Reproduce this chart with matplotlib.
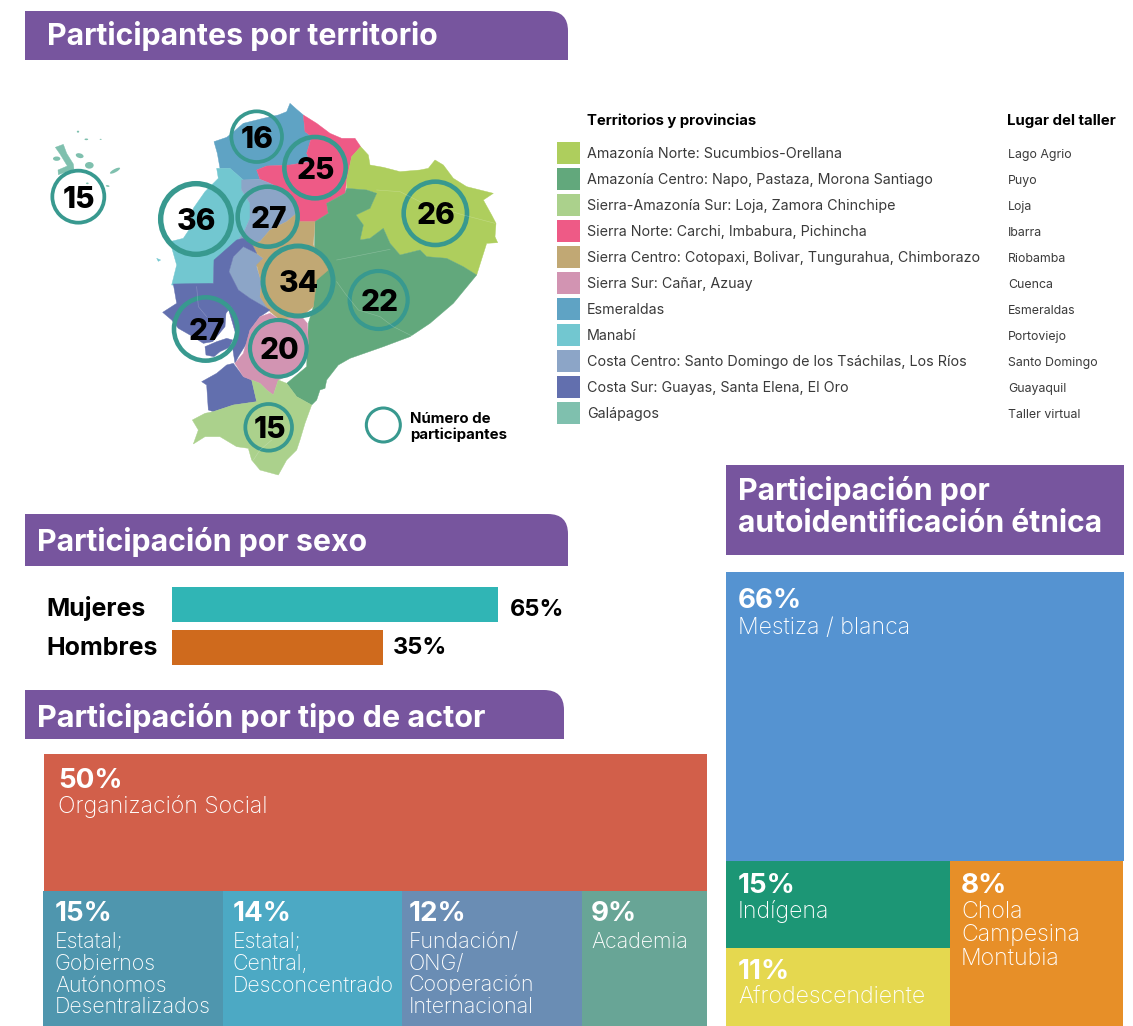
"""Participantes por territorio, sexo, tipo de actor y autoidentificación étnica."""
import matplotlib
matplotlib.use("Agg")
import matplotlib.pyplot as plt
from matplotlib.patches import Circle, Ellipse, PathPatch, Polygon
from matplotlib.path import Path

plt.rcParams["font.family"] = ["Inter", "DejaVu Sans"]

# ---- datos ----
territories = ["Amazonía Norte: Sucumbios-Orellana",
               "Amazonía Centro: Napo, Pastaza, Morona Santiago",
               "Sierra-Amazonía Sur: Loja, Zamora Chinchipe",
               "Sierra Norte: Carchi, Imbabura, Pichincha",
               "Sierra Centro: Cotopaxi, Bolivar, Tungurahua, Chimborazo",
               "Sierra Sur: Cañar, Azuay",
               "Esmeraldas",
               "Manabí",
               "Costa Centro: Santo Domingo de los Tsáchilas, Los Ríos",
               "Costa Sur: Guayas, Santa Elena, El Oro",
               "Galápagos"]
workshops = ["Lago Agrio", "Puyo", "Loja", "Ibarra", "Riobamba", "Cuenca",
             "Esmeraldas", "Portoviejo", "Santo Domingo", "Guayaquil", "Taller virtual"]
territory_counts = [26, 22, 15, 25, 34, 20, 16, 36, 27, 27, 15]

sex_labels = ["Mujeres", "Hombres"]
sex_pct = [65, 35]
# largo dibujado de cada barra: el original no es proporcional a su etiqueta
sex_bar_lengths = [65, 42]

actor_pct = [50, 15, 14, 12, 9]
actor_labels = ["Organización Social", "Estatal;\nGobiernos\nAutónomos\nDesentralizados",
                "Estatal;\nCentral,\nDesconcentrado",
                "Fundación/\nONG/\nCooperación\nInternacional", "Academia"]
ethnic_pct = [66, 15, 11, 8]
ethnic_labels = ["Mestiza / blanca", "Indígena", "Afrodescendiente",
                 "Chola\nCampesina\nMontubia"]

# ---- colores ----
PURPLE = "#77559e"
RING = "#38998f"
GAL = "#7fc0ae"
territory_colors = ["#aece5d", "#62a87c", "#abd18c", "#ee5a86", "#c1a874", "#d294b2",
                    "#5fa3c4", "#72c7d0", "#8ca5c7", "#626fae", GAL]
actor_colors = ["#d25f4a", "#4f96ae", "#4ca9c4", "#6a8db4", "#68a596"]
ethnic_colors = ["#5593d1", "#1c9675", "#e5d84f", "#e78f28"]

# ---- contornos del mapa (trazados a mano sobre la imagen) ----
map_shapes = {
    "#5fa3c4": [[(780, 40), (800, 58), (820, 75), (825, 125), (845, 140), (830, 190), (840, 215),
                 (780, 225), (710, 228), (680, 240), (690, 268), (640, 270), (600, 235), (570, 235),
                 (562, 190), (552, 155), (590, 142), (605, 130), (640, 100), (700, 85), (745, 75),
                 (770, 65)]],
    "#ee5a86": [[(820, 75), (860, 100), (900, 130), (935, 145), (975, 145), (992, 170), (965, 200),
                 (950, 270), (945, 310), (890, 340), (895, 370), (855, 395), (810, 395), (800, 370),
                 (780, 310), (720, 280), (690, 268), (680, 240), (710, 228), (780, 225), (840, 215),
                 (830, 190), (845, 140), (825, 125)]],
    "#aece5d": [[(992, 170), (1015, 195), (1020, 225), (1060, 232), (1110, 245), (1170, 240),
                 (1195, 235), (1215, 210), (1240, 225), (1270, 265), (1310, 290), (1350, 300),
                 (1390, 310), (1360, 330), (1385, 375), (1398, 400), (1395, 440), (1403, 458),
                 (1370, 460), (1340, 555), (1300, 530), (1250, 505), (1190, 500), (1170, 480),
                 (1110, 495), (1080, 460), (1060, 415), (1020, 445), (990, 450), (1000, 405),
                 (978, 375), (1020, 355), (1040, 310), (1010, 300), (950, 295), (950, 270), (965, 200)]],
    "#62a87c": [[(950, 295), (1010, 300), (1040, 310), (1020, 355), (978, 375), (1000, 405),
                 (990, 450), (1020, 445), (1060, 415), (1080, 460), (1110, 495), (1170, 480),
                 (1190, 500), (1250, 505), (1300, 530), (1340, 555), (1270, 640), (1200, 700),
                 (1140, 740), (1060, 770), (960, 805), (925, 825), (890, 870), (885, 895), (870, 900),
                 (860, 930), (845, 945), (800, 920), (770, 880), (830, 830), (835, 700), (850, 650),
                 (855, 395), (895, 370), (890, 340), (945, 310)]],
    "#72c7d0": [[(600, 235), (640, 270), (635, 300), (660, 340), (660, 385), (640, 430), (625, 450),
                 (580, 500), (552, 515), (550, 580), (480, 590), (425, 585), (440, 525), (420, 455),
                 (460, 445), (480, 415), (490, 355), (525, 305), (565, 265), (560, 235)],
                [(380, 505), (392, 510), (385, 514)]],
    "#8ca5c7": [[(635, 270), (690, 268), (720, 280), (780, 310), (800, 370), (770, 395), (720, 420),
                 (690, 455), (665, 460), (640, 450), (625, 450), (640, 430), (660, 385), (660, 340),
                 (635, 300)],
                [(640, 470), (680, 490), (700, 505), (680, 530), (695, 580), (690, 620), (720, 660),
                 (660, 625), (625, 600), (597, 545), (610, 500)]],
    "#c1a874": [[(855, 395), (850, 465), (895, 540), (860, 570), (850, 650), (815, 680), (750, 690),
                 (720, 665), (690, 620), (695, 580), (680, 525), (700, 505), (680, 490), (665, 460),
                 (690, 455), (720, 420), (770, 395), (800, 370), (810, 395)]],
    "#626fae": [[(552, 510), (620, 450), (640, 445), (665, 460), (680, 490), (640, 470), (610, 500),
                 (597, 545), (625, 600), (660, 625), (720, 660), (690, 680), (660, 720), (650, 760),
                 (625, 800), (615, 820), (608, 775), (618, 735), (605, 690), (596, 660), (610, 640),
                 (588, 670), (585, 710), (548, 755), (520, 760), (480, 735), (445, 715), (425, 690),
                 (398, 667), (440, 640), (430, 582), (550, 580)],
                [(525, 770), (560, 755), (590, 745), (608, 750), (598, 772), (570, 785), (552, 800),
                 (528, 795)],
                [(610, 820), (640, 860), (665, 870), (680, 935), (610, 945), (550, 965), (535, 960),
                 (530, 885), (515, 875), (560, 850), (590, 825)]],
    "#d294b2": [[(720, 670), (750, 690), (815, 680), (832, 700), (835, 760), (825, 810), (790, 850),
                 (745, 870), (730, 915), (710, 900), (690, 880), (665, 870), (640, 860), (615, 820),
                 (640, 790), (660, 720), (690, 680)]],
    "#abd18c": [[(665, 870), (690, 880), (710, 900), (730, 915), (745, 870), (770, 880), (800, 920),
                 (845, 945), (825, 1000), (810, 1050), (800, 1080), (770, 1110), (745, 1155),
                 (690, 1140), (665, 1110), (655, 1075), (620, 1070), (570, 1040), (525, 1040),
                 (490, 1062), (505, 1020), (487, 990), (525, 970), (550, 965), (610, 945), (680, 935)]],
    GAL: [[(76, 172), (100, 163), (110, 190), (130, 222), (132, 238), (85, 254), (84, 240),
           (112, 228), (90, 192)]],
}
gal_islands = [(80, 206, 22, 13, 0), (178, 226, 26, 20, 0), (149, 197, 24, 14, 15),
               (255, 242, 34, 10, -28), (144, 125, 7, 6, 0), (169, 148, 11, 5, 0),
               (233, 288, 11, 5, 10), (212, 148, 6, 3, 0), (172, 280, 8, 5, 0)]
province_lines = [[(920, 510), (1080, 478)],
                  [(920, 575), (945, 610), (985, 660), (1050, 680), (1090, 710), (1150, 740)],
                  [(1040, 300), (1110, 305), (1180, 340), (1300, 375), (1395, 400)],
                  [(670, 1110), (690, 1080), (725, 1050)],
                  [(500, 590), (505, 650), (530, 680)]]

# centro del anillo, radio y grosor (coordenadas del mapa), en orden de territory_counts
ring_layout = [(1216, 370, 95, 11), (1046, 630, 87, 10), (716, 1012, 70, 9), (855, 233, 92, 11),
               (804, 573, 105, 12), (745, 775, 85, 10), (680, 140, 76, 9), (498, 387, 106, 13),
               (713, 380, 90, 11), (527, 717, 95, 11), (145, 320, 78, 9)]


def mx(x):
    return 30 + x / 3


def my(y):
    return 90 + y / 3


def header(ax, x0, y0, x1, y1, r=20):
    verts = [(x0, y1), (x0, y0), (x1 - r, y0), (x1, y0), (x1, y0 + r), (x1, y1), (x0, y1)]
    codes = [Path.MOVETO, Path.LINETO, Path.LINETO, Path.CURVE3, Path.CURVE3, Path.LINETO,
             Path.CLOSEPOLY]
    ax.add_patch(PathPatch(Path(verts, codes), fc=PURPLE, ec="none"))


def cell_text(ax, x, y_pct, y_label, pct, label, step=23.3, size=16.6):
    ax.text(x, y_pct, f"{pct}%", color="white", fontsize=20, fontweight="bold", va="baseline")
    for k, line in enumerate(label.split("\n")):
        ax.text(x, y_label + k * step, line, color="white", fontsize=size, fontweight="light",
                va="baseline")


fig = plt.figure(figsize=(11.33, 10.26), dpi=100)
ax = fig.add_axes([0, 0, 1, 1])
ax.set_xlim(0, 1133)
ax.set_ylim(1026, 0)
ax.axis("off")

# ---- encabezados ----
header(ax, 25, 11, 568, 60)
header(ax, 25, 514, 568, 566)
header(ax, 25, 690, 564, 739)
ax.bar(925, 90, width=398, bottom=465, color=PURPLE)
title_kw = dict(color="white", fontsize=21.8, fontweight="bold", va="baseline")
ax.text(47, 45, "Participantes por territorio", **title_kw)
ax.text(37, 551, "Participación por sexo", **title_kw)
ax.text(37, 727, "Participación por tipo de actor", fontsize=22, color="white",
        fontweight="bold", va="baseline")
ax.text(738, 500, "Participación por", **title_kw)
ax.text(738, 532, "autoidentificación étnica", fontsize=21.6, color="white",
        fontweight="bold", va="baseline")

# ---- mapa ----
for color, shapes in map_shapes.items():
    for pts in shapes:
        ax.add_patch(Polygon([(mx(x), my(y)) for x, y in pts], closed=True, fc=color, ec=color,
                             lw=0.3))
for cx, cy, w, h, ang in gal_islands:
    ax.add_patch(Ellipse((mx(cx), my(cy)), w / 3, h / 3, angle=ang, fc=GAL, ec="none"))
for pts in province_lines:
    ax.plot([mx(p[0]) for p in pts], [my(p[1]) for p in pts], color="white", lw=0.4, alpha=0.25)

for n, (cx, cy, r, lw) in zip(territory_counts, ring_layout):
    ax.add_patch(Circle((mx(cx), my(cy)), r / 3, fc="none", ec=RING, lw=lw / 3 * 0.72 * 1.25))
    ax.text(mx(cx) + 1, my(cy), str(n), color="black", fontsize=21.5, fontweight=800,
            ha="center", va="center_baseline")

ax.add_patch(Circle((mx(1060), my(1005)), 17, fc="white", ec=RING, lw=2.2))
ax.text(410, 423, "Número de", fontsize=10.8, fontweight="bold", va="baseline")
ax.text(410, 439, "participantes", fontsize=10.8, fontweight="bold", va="baseline")

# ---- leyenda ----
ax.text(587, 125, "Territorios y provincias", fontsize=10.7, fontweight="bold", va="baseline")
ax.text(1007, 125, "Lugar del taller", fontsize=10.8, fontweight="bold", va="baseline")
for i, (name, place, color) in enumerate(zip(territories, workshops, territory_colors)):
    yc = 153.3 + i * 26
    ax.bar(568.5, 22, width=23, bottom=yc - 11, color=color)
    ax.text(587, yc + 5, name, fontsize=10.3, color="#3a3a3a", va="baseline")
    ax.text(1008, yc + 5, place, fontsize=8.9, color="#3a3a3a", va="baseline")

# ---- sexo ----
ax_sex = fig.add_axes([172 / 1133, 1 - 665 / 1026, 326 / 1133, 78 / 1026])
ax_sex.set_xlim(0, 65)
ax_sex.set_ylim(1.407, -0.407)
ax_sex.axis("off")
ax_sex.barh([0, 1], sex_bar_lengths, height=0.814, color=["#30b5b5", "#cf6a1d"])
for y, lab, pct, ln, bl, gap in zip([616, 655], sex_labels, sex_pct, sex_bar_lengths,
                                    [616, 654], [12, 10]):
    ax.text(46, y, lab, fontsize=18, fontweight="bold", va="baseline")
    ax.text(172 + ln * 326 / 65 + gap, bl, f"{pct}%", fontsize=17, fontweight="bold",
            va="baseline")

# ---- tipo de actor ----
actor_lefts = [44, 43, 223, 402, 582]
actor_widths = [663, 180, 179, 180, 125]
actor_tops = [754, 891, 891, 891, 891]
actor_heights = [137, 135, 135, 135, 135]
ax.bar(actor_lefts, actor_heights, width=actor_widths, bottom=actor_tops, align="edge",
       color=actor_colors)
cell_text(ax, 58, 788, 813, actor_pct[0], actor_labels[0])
for x, pct, label in zip([55, 233, 409, 591], actor_pct[1:], actor_labels[1:]):
    cell_text(ax, x, 921, 948, pct, label, step=21.7, size=15.4)

# ---- autoidentificación étnica ----
ethnic_lefts = [726, 726, 726, 950]
ethnic_widths = [398, 224, 224, 173]
ethnic_tops = [572, 861, 948, 861]
ethnic_heights = [289, 87, 78, 165]
ax.bar(ethnic_lefts, ethnic_heights, width=ethnic_widths, bottom=ethnic_tops, align="edge",
       color=ethnic_colors)
cell_text(ax, 738, 608, 634, ethnic_pct[0], ethnic_labels[0])
cell_text(ax, 738, 893, 918, ethnic_pct[1], ethnic_labels[1])
cell_text(ax, 738, 979, 1004, ethnic_pct[2], ethnic_labels[2])
cell_text(ax, 961, 893, 918, ethnic_pct[3], ethnic_labels[3])

fig.savefig("out.png", dpi=100)
